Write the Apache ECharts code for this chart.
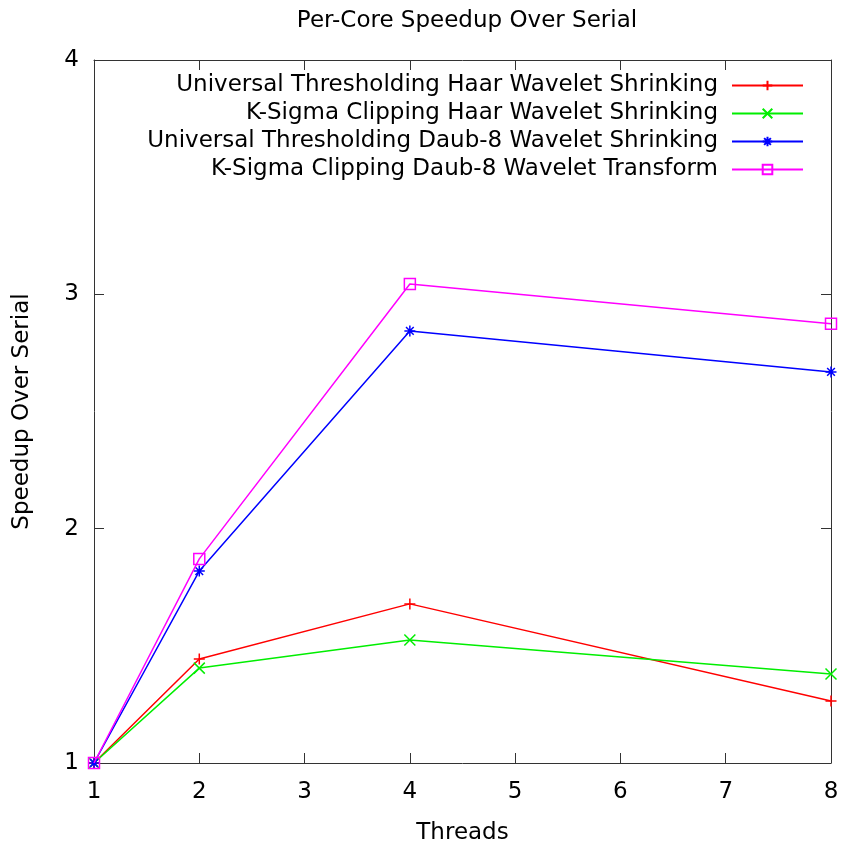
<!DOCTYPE html>
<html><head><meta charset="utf-8">
<script src="https://cdn.jsdelivr.net/npm/echarts@6/dist/echarts.min.js"></script>
<style>html,body{margin:0;padding:0;background:#fff}#c{width:843px;height:846px}</style>
</head><body><div id="c"></div>
<script>
const threads = [1, 2, 4, 8];
const seriesNames = [
  'Universal Thresholding Haar Wavelet Shrinking',
  'K-Sigma Clipping Haar Wavelet Shrinking',
  'Universal Thresholding Daub-8 Wavelet Shrinking',
  'K-Sigma Clipping Daub-8 Wavelet Transform'
];
const utHaar = [1, 1.444, 1.679, 1.265];
const ksHaar = [1, 1.405, 1.525, 1.38];
const utDaub = [1, 1.819, 2.844, 2.669];
const ksDaub = [1, 1.871, 3.044, 2.874];
const yTicks = [1, 2, 3, 4];
const xTicks = [1, 2, 3, 4, 5, 6, 7, 8];

const colors = ['#ff0000', '#00ee00', '#0000ff', '#ff00ff'];
const symbols = [
  'path://M5,0 L5,10 M0,5 L10,5',
  'path://M0,0 L10,10 M0,10 L10,0',
  'path://M5,0 L5,10 M0,5 L10,5 M1.5,1.5 L8.5,8.5 M1.5,8.5 L8.5,1.5',
  'path://M0,0 L10,0 L10,10 L0,10 Z'
];
const allData = [utHaar, ksHaar, utDaub, ksDaub];
const FONT = 'DejaVu Sans';
const FS = 23;

const chart = echarts.init(document.getElementById('c'), null, {renderer: 'canvas'});
const axisLine = {show: true, lineStyle: {color: '#333', width: 1}};
const baseX = {
  type: 'value', min: xTicks[0], max: xTicks[xTicks.length - 1], interval: 1,
  axisLine: axisLine, splitLine: {show: false},
  axisTick: {show: true, inside: true, length: 10, lineStyle: {color: '#333'}}
};
const baseY = {
  type: 'value', min: yTicks[0], max: yTicks[yTicks.length - 1], interval: 1,
  axisLine: axisLine, splitLine: {show: false},
  axisTick: {show: true, inside: true, length: 10, lineStyle: {color: '#333'}}
};
chart.setOption({
  animation: false,
  backgroundColor: '#fff',
  textStyle: {fontFamily: FONT},
  title: {
    text: 'Per-Core Speedup Over Serial', left: 462, top: 5, textAlign: 'center',
    textStyle: {fontFamily: FONT, fontSize: FS, fontWeight: 'normal', color: '#000'}
  },
  grid: {left: 94, right: 12, top: 60, bottom: 83, containLabel: false, outerBoundsMode: 'none'},
  legend: {
    orient: 'vertical', right: 34, top: 69, align: 'right',
    itemWidth: 71, itemHeight: 12, itemGap: 5,
    selectedMode: false,
    textStyle: {fontFamily: FONT, fontSize: FS, color: '#000', lineHeight: 23, padding: [0, 9, 0, 0]},
    data: seriesNames
  },
  xAxis: [
    Object.assign({}, baseX, {
      position: 'bottom', name: 'Threads', nameLocation: 'middle', nameGap: 59,
      nameTextStyle: {fontFamily: FONT, fontSize: FS, color: '#000'},
      axisLabel: {fontFamily: FONT, fontSize: FS, color: '#000', margin: 18}
    }),
    Object.assign({}, baseX, {position: 'top', axisLabel: {show: false}})
  ],
  yAxis: [
    Object.assign({}, baseY, {
      position: 'left', name: 'Speedup Over Serial', nameLocation: 'middle', nameGap: 60,
      nameTextStyle: {fontFamily: FONT, fontSize: FS, color: '#000'},
      axisLabel: {fontFamily: FONT, fontSize: FS, color: '#000', margin: 15}
    }),
    Object.assign({}, baseY, {position: 'right', axisLabel: {show: false}})
  ],
  series: allData.map((d, i) => ({
    name: seriesNames[i], type: 'line',
    data: threads.map((t, j) => [t, d[j]]),
    symbol: symbols[i], symbolSize: 11, showAllSymbol: true,
    lineStyle: {color: colors[i], width: 1.5},
    itemStyle: {color: 'rgba(0,0,0,0)', borderColor: colors[i], borderWidth: 1.5},
    emphasis: {disabled: true},
    z: 2 + i
  }))
});
</script></body></html>
